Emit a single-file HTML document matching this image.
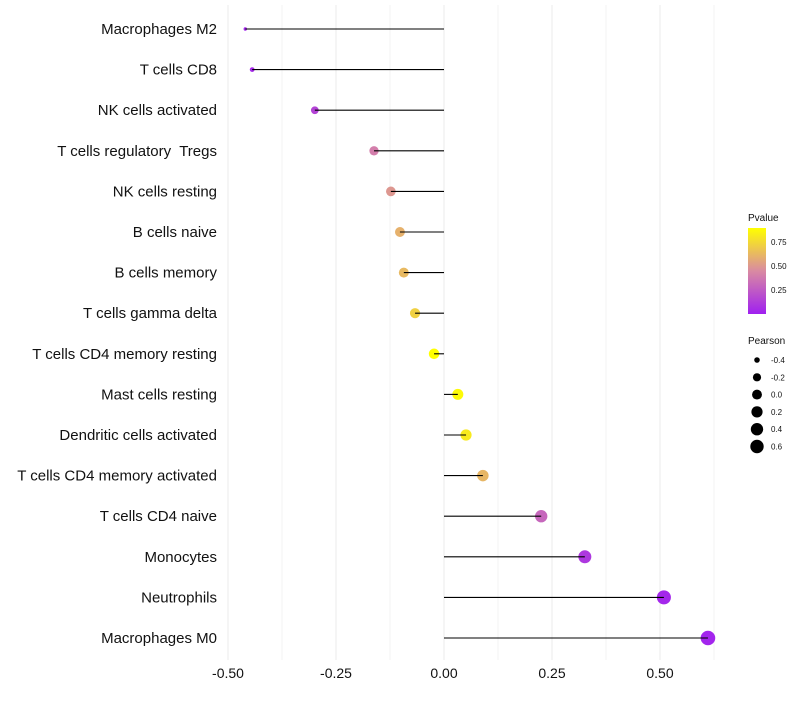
<!DOCTYPE html>
<html><head><meta charset="utf-8"><style>
body{margin:0;background:#fff;font-family:"Liberation Sans",sans-serif}
</style></head><body>
<svg id="c" width="800" height="700">
<defs><linearGradient id="pg" x1="0" y1="1" x2="0" y2="0">
<stop offset="0" stop-color="#a020f0"/><stop offset="0.5" stop-color="#d98aa2"/><stop offset="1" stop-color="#ffff00"/>
</linearGradient></defs>
<g id="grid"></g><g id="points"></g><g id="stems"></g><g id="labels"></g><g id="legend"></g>
</svg>
<script>
const categories=["Macrophages M2","T cells CD8","NK cells activated","T cells regulatory  Tregs","NK cells resting","B cells naive","B cells memory","T cells gamma delta","T cells CD4 memory resting","Mast cells resting","Dendritic cells activated","T cells CD4 memory activated","T cells CD4 naive","Monocytes","Neutrophils","Macrophages M0"];
const pearson=[-0.46,-0.444,-0.299,-0.162,-0.123,-0.102,-0.093,-0.067,-0.023,0.032,0.051,0.090,0.225,0.326,0.509,0.611];
const pvalue=[0.02,0.04,0.15,0.40,0.50,0.60,0.63,0.72,0.93,0.88,0.82,0.62,0.30,0.10,0.03,0.02];
const xTicks=[-0.5,-0.25,0,0.25,0.5];
const xTickLabels=["-0.50","-0.25","0.00","0.25","0.50"];
const pTicks=[0.25,0.5,0.75];
const sizeTicks=[-0.4,-0.2,0,0.2,0.4,0.6];
const NS="http://www.w3.org/2000/svg";
const x=v=>444+v*432;
const y=i=>29+i*40.6;
const r=v=>1.7+5.6*Math.sqrt(Math.max(0,(v+0.46)/1.07));
function col(p){const t=Math.max(0,Math.min(1,p/0.9));
 const a=[160,32,240],b=[217,138,162],c=[255,255,0];let s,e,u;
 if(t<0.5){s=a;e=b;u=t/0.5}else{s=b;e=c;u=(t-0.5)/0.5}
 return `rgb(${s.map((q,k)=>Math.round(q+(e[k]-q)*u)).join(",")})`;}
function mk(tag,at,parent,txt){const el=document.createElementNS(NS,tag);for(const k in at)el.setAttribute(k,at[k]);if(txt!==undefined)el.textContent=txt;document.getElementById(parent).appendChild(el);return el;}
for(let g=-0.5;g<=0.626;g+=0.125){
 const el=mk("line",{x1:x(g),x2:x(g),y1:5,y2:660,stroke:"#ebebeb","stroke-width":Math.abs(g*4-Math.round(g*4))<1e-6?1:0.6},"grid");
 
 
}
xTicks.forEach((t,i)=>{
 const el=mk("text",{x:x(t),y:678,"text-anchor":"middle","font-size":14,fill:"#111"},"labels",xTickLabels[i]);
 
 
});
categories.forEach((c,i)=>{
 const lb=mk("text",{x:217,y:y(i)+5,"text-anchor":"end","font-size":15,fill:"#111","xml:space":"preserve",style:"white-space:pre"},"labels",c);
 
 
 const pt=mk("circle",{cx:x(pearson[i]),cy:y(i),r:r(pearson[i]),fill:col(pvalue[i])},"points");
 
 
 const ln=mk("line",{x1:x(0),x2:x(pearson[i]),y1:y(i),y2:y(i),stroke:"#000","stroke-width":1.1},"stems");
 
 
});
let t=mk("text",{x:748,y:221,"font-size":10,fill:"#111"},"legend","Pvalue");


let cb=mk("rect",{x:748,y:228,width:18,height:86,fill:"url(#pg)"},"legend");


pTicks.forEach(p=>{const yy=314-p*96;
 const tk=mk("text",{x:771,y:yy+3,"font-size":8,fill:"#111"},"legend",p.toFixed(2));
 
 
});
t=mk("text",{x:748,y:344,"font-size":10,fill:"#111"},"legend","Pearson");


sizeTicks.forEach((s,i)=>{const yy=360+i*17.3;
 const c=mk("circle",{cx:757,cy:yy,r:r(s)*0.92,fill:"#000"},"legend");
 
 
 const tx=mk("text",{x:771,y:yy+3,"font-size":8,fill:"#111"},"legend",s.toFixed(1));
 
 
});
</script>
</body></html>
